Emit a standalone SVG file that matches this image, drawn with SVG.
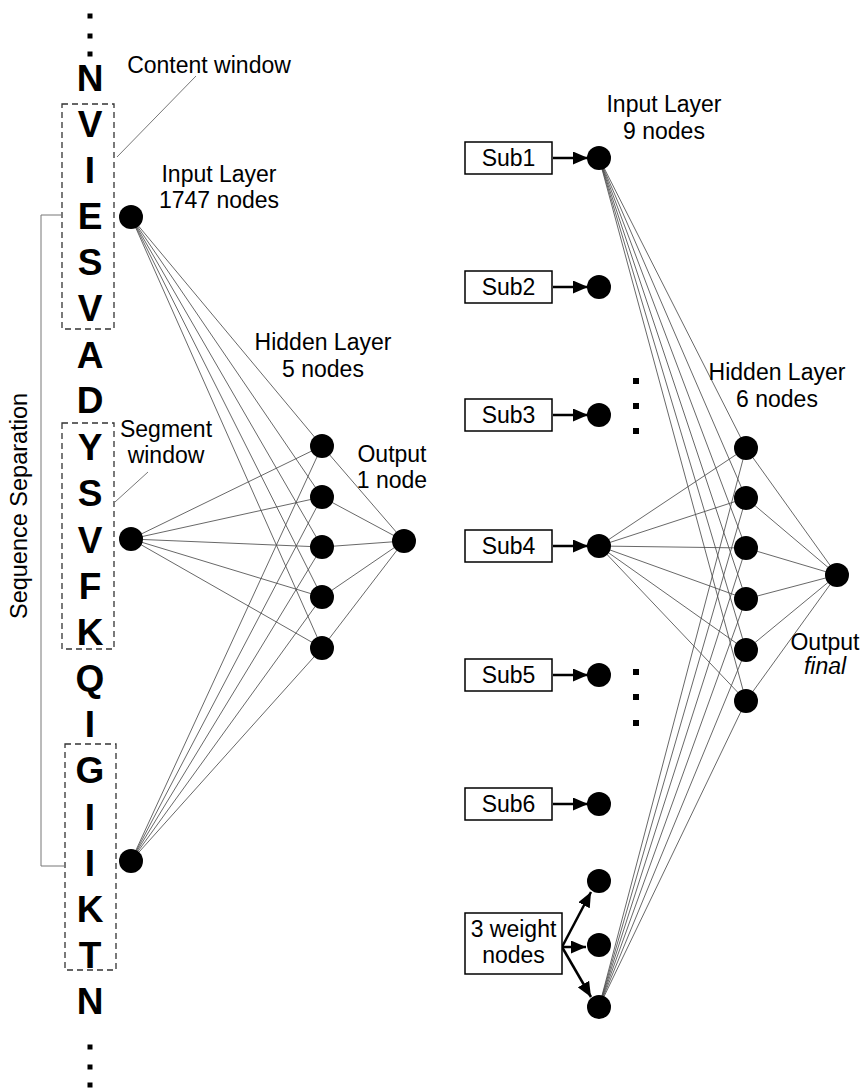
<svg xmlns="http://www.w3.org/2000/svg" width="864" height="1089" viewBox="0 0 864 1089">
<style>
.lbl{font-family:"Liberation Sans",Arial,sans-serif;font-size:23px;fill:#000;text-anchor:middle}
.seq{font-family:"Liberation Sans",Arial,sans-serif;font-size:37px;font-weight:bold;fill:#000;text-anchor:middle}
.win{fill:none;stroke:#333;stroke-width:1.3;stroke-dasharray:6,4}
.lead{fill:none;stroke:#777;stroke-width:1}
.edge{stroke:#4d4d4d;stroke-width:0.85;fill:none}
.arr{stroke:#000;stroke-width:2.5;fill:none;marker-end:url(#ah)}
.box{fill:#fff;stroke:#000;stroke-width:1.5}
.node{fill:#000}
.dot{fill:#000}
</style>
<defs>
<marker id="ah" markerUnits="userSpaceOnUse" markerWidth="15" markerHeight="13" viewBox="0 0 15 13" refX="15" refY="6.5" orient="auto">
<path d="M0,0 L15,6.5 L0,13 z" fill="#000"/>
</marker>
</defs>
<rect width="864" height="1089" fill="#fff"/>

<g id="sequence">
<rect class="dot" x="87.5" y="13.5" width="5" height="5"/>
<rect class="dot" x="87.5" y="33.5" width="5" height="5"/>
<rect class="dot" x="87.5" y="51.5" width="5" height="5"/>
<text class="seq" x="90" y="91">N</text>
<text class="seq" x="90" y="137">V</text>
<text class="seq" x="90" y="183">I</text>
<text class="seq" x="90" y="229">E</text>
<text class="seq" x="90" y="275">S</text>
<text class="seq" x="90" y="321">V</text>
<text class="seq" x="90" y="368">A</text>
<text class="seq" x="90" y="413">D</text>
<text class="seq" x="90" y="460">Y</text>
<text class="seq" x="90" y="506">S</text>
<text class="seq" x="90" y="553">V</text>
<text class="seq" x="90" y="599">F</text>
<text class="seq" x="90" y="645">K</text>
<text class="seq" x="90" y="691">Q</text>
<text class="seq" x="90" y="737">I</text>
<text class="seq" x="90" y="783">G</text>
<text class="seq" x="90" y="830">I</text>
<text class="seq" x="90" y="876">I</text>
<text class="seq" x="90" y="922">K</text>
<text class="seq" x="90" y="968">T</text>
<text class="seq" x="90" y="1014">N</text>
<rect class="dot" x="87.5" y="1044.5" width="5" height="5"/>
<rect class="dot" x="87.5" y="1064.5" width="5" height="5"/>
<rect class="dot" x="87.5" y="1082.5" width="5" height="5"/>
</g>

<g id="content-window">
<rect class="win" x="62" y="104" width="52" height="225"/>
<line class="lead" x1="117" y1="157" x2="196" y2="76"/>
<text class="lbl" x="209" y="73">Content window</text>
</g>

<g id="segment-window">
<rect class="win" x="62" y="423" width="52" height="226"/>
<line class="lead" x1="115" y1="502" x2="148" y2="472"/>
<text class="lbl" x="166" y="437">Segment</text>
<text class="lbl" x="166" y="463">window</text>
</g>

<g id="third-window">
<rect class="win" x="65" y="744" width="51" height="226"/>
</g>

<g id="sequence-separation">
<path class="lead" d="M62,215 H41 V866 H65"/>
<text class="lbl" transform="translate(27,506) rotate(-90)" style="font-size:23.5px">Sequence Separation</text>
</g>

<g id="connectors">
<g id="left-edges">
<line class="edge" x1="131" y1="217" x2="322" y2="446"/>
<line class="edge" x1="131" y1="217" x2="322" y2="497"/>
<line class="edge" x1="131" y1="217" x2="322" y2="547"/>
<line class="edge" x1="131" y1="217" x2="322" y2="597"/>
<line class="edge" x1="131" y1="217" x2="322" y2="648"/>
<line class="edge" x1="131" y1="539" x2="322" y2="446"/>
<line class="edge" x1="131" y1="539" x2="322" y2="497"/>
<line class="edge" x1="131" y1="539" x2="322" y2="547"/>
<line class="edge" x1="131" y1="539" x2="322" y2="597"/>
<line class="edge" x1="131" y1="539" x2="322" y2="648"/>
<line class="edge" x1="131" y1="861" x2="322" y2="446"/>
<line class="edge" x1="131" y1="861" x2="322" y2="497"/>
<line class="edge" x1="131" y1="861" x2="322" y2="547"/>
<line class="edge" x1="131" y1="861" x2="322" y2="597"/>
<line class="edge" x1="131" y1="861" x2="322" y2="648"/>
<line class="edge" x1="322" y1="446" x2="404" y2="541"/>
<line class="edge" x1="322" y1="497" x2="404" y2="541"/>
<line class="edge" x1="322" y1="547" x2="404" y2="541"/>
<line class="edge" x1="322" y1="597" x2="404" y2="541"/>
<line class="edge" x1="322" y1="648" x2="404" y2="541"/>
</g>
<g id="right-edges">
<line class="edge" x1="599" y1="158" x2="746" y2="448"/>
<line class="edge" x1="599" y1="158" x2="746" y2="498"/>
<line class="edge" x1="599" y1="158" x2="746" y2="548"/>
<line class="edge" x1="599" y1="158" x2="746" y2="599"/>
<line class="edge" x1="599" y1="158" x2="746" y2="650"/>
<line class="edge" x1="599" y1="158" x2="746" y2="701"/>
<line class="edge" x1="599" y1="546" x2="746" y2="448"/>
<line class="edge" x1="599" y1="546" x2="746" y2="498"/>
<line class="edge" x1="599" y1="546" x2="746" y2="548"/>
<line class="edge" x1="599" y1="546" x2="746" y2="599"/>
<line class="edge" x1="599" y1="546" x2="746" y2="650"/>
<line class="edge" x1="599" y1="546" x2="746" y2="701"/>
<line class="edge" x1="599" y1="1007" x2="746" y2="448"/>
<line class="edge" x1="599" y1="1007" x2="746" y2="498"/>
<line class="edge" x1="599" y1="1007" x2="746" y2="548"/>
<line class="edge" x1="599" y1="1007" x2="746" y2="599"/>
<line class="edge" x1="599" y1="1007" x2="746" y2="650"/>
<line class="edge" x1="599" y1="1007" x2="746" y2="701"/>
<line class="edge" x1="746" y1="448" x2="837" y2="575"/>
<line class="edge" x1="746" y1="498" x2="837" y2="575"/>
<line class="edge" x1="746" y1="548" x2="837" y2="575"/>
<line class="edge" x1="746" y1="599" x2="837" y2="575"/>
<line class="edge" x1="746" y1="650" x2="837" y2="575"/>
<line class="edge" x1="746" y1="701" x2="837" y2="575"/>
</g>
<g id="arrows">
<line class="arr" x1="553" y1="158" x2="588" y2="158"/>
<line class="arr" x1="553" y1="287" x2="588" y2="287"/>
<line class="arr" x1="553" y1="415" x2="588" y2="415"/>
<line class="arr" x1="553" y1="546" x2="588" y2="546"/>
<line class="arr" x1="553" y1="675" x2="588" y2="675"/>
<line class="arr" x1="553" y1="804" x2="588" y2="804"/>
<line class="arr" x1="562" y1="947" x2="591" y2="892"/>
<line class="arr" x1="562" y1="947" x2="586" y2="947"/>
<line class="arr" x1="562" y1="947" x2="591" y2="997"/>
</g>
</g>

<g id="left-input-layer">
<circle class="node" cx="131" cy="217" r="12"/>
<circle class="node" cx="131" cy="539" r="12"/>
<circle class="node" cx="131" cy="861" r="12"/>
<text class="lbl" x="219" y="182">Input Layer</text>
<text class="lbl" x="219" y="208">1747 nodes</text>
</g>

<g id="left-hidden-layer">
<circle class="node" cx="322" cy="446" r="12"/>
<circle class="node" cx="322" cy="497" r="12"/>
<circle class="node" cx="322" cy="547" r="12"/>
<circle class="node" cx="322" cy="597" r="12"/>
<circle class="node" cx="322" cy="648" r="12"/>
<text class="lbl" x="323" y="350">Hidden Layer</text>
<text class="lbl" x="323" y="377">5 nodes</text>
</g>

<g id="left-output">
<circle class="node" cx="404" cy="541" r="12"/>
<text class="lbl" x="392" y="462">Output</text>
<text class="lbl" x="392" y="488">1 node</text>
</g>

<g id="sub1"><rect class="box" x="465" y="142" width="87" height="32"/><text class="lbl" x="508.5" y="166">Sub1</text></g>
<g id="sub2"><rect class="box" x="465" y="271" width="87" height="32"/><text class="lbl" x="508.5" y="295">Sub2</text></g>
<g id="sub3"><rect class="box" x="465" y="399" width="87" height="32"/><text class="lbl" x="508.5" y="423">Sub3</text></g>
<g id="sub4"><rect class="box" x="465" y="530" width="87" height="32"/><text class="lbl" x="508.5" y="554">Sub4</text></g>
<g id="sub5"><rect class="box" x="465" y="659" width="87" height="32"/><text class="lbl" x="508.5" y="683">Sub5</text></g>
<g id="sub6"><rect class="box" x="465" y="788" width="87" height="32"/><text class="lbl" x="508.5" y="812">Sub6</text></g>
<g id="weight-box"><rect class="box" x="465" y="913" width="97" height="61"/><text class="lbl" x="513.5" y="937">3 weight</text><text class="lbl" x="513.5" y="963">nodes</text></g>

<g id="right-input-layer">
<circle class="node" cx="599" cy="158" r="12"/>
<circle class="node" cx="599" cy="287" r="12"/>
<circle class="node" cx="599" cy="415" r="12"/>
<circle class="node" cx="599" cy="546" r="12"/>
<circle class="node" cx="599" cy="675" r="12"/>
<circle class="node" cx="599" cy="804" r="12"/>
<circle class="node" cx="599" cy="881" r="12"/>
<circle class="node" cx="599" cy="945" r="12"/>
<circle class="node" cx="599" cy="1007" r="12"/>
<rect class="dot" x="633" y="378" width="6" height="6"/>
<rect class="dot" x="633" y="403" width="6" height="6"/>
<rect class="dot" x="633" y="428" width="6" height="6"/>
<rect class="dot" x="633" y="669" width="6" height="6"/>
<rect class="dot" x="633" y="694" width="6" height="6"/>
<rect class="dot" x="633" y="720" width="6" height="6"/>
<text class="lbl" x="664" y="112">Input Layer</text>
<text class="lbl" x="664" y="139">9 nodes</text>
</g>

<g id="right-hidden-layer">
<circle class="node" cx="746" cy="448" r="12"/>
<circle class="node" cx="746" cy="498" r="12"/>
<circle class="node" cx="746" cy="548" r="12"/>
<circle class="node" cx="746" cy="599" r="12"/>
<circle class="node" cx="746" cy="650" r="12"/>
<circle class="node" cx="746" cy="701" r="12"/>
<text class="lbl" x="777" y="380">Hidden Layer</text>
<text class="lbl" x="777" y="407">6 nodes</text>
</g>

<g id="right-output">
<circle class="node" cx="837" cy="575" r="12"/>
<text class="lbl" x="825" y="650">Output</text>
<text class="lbl" x="825" y="674" style="font-style:italic">final</text>
</g>
</svg>
